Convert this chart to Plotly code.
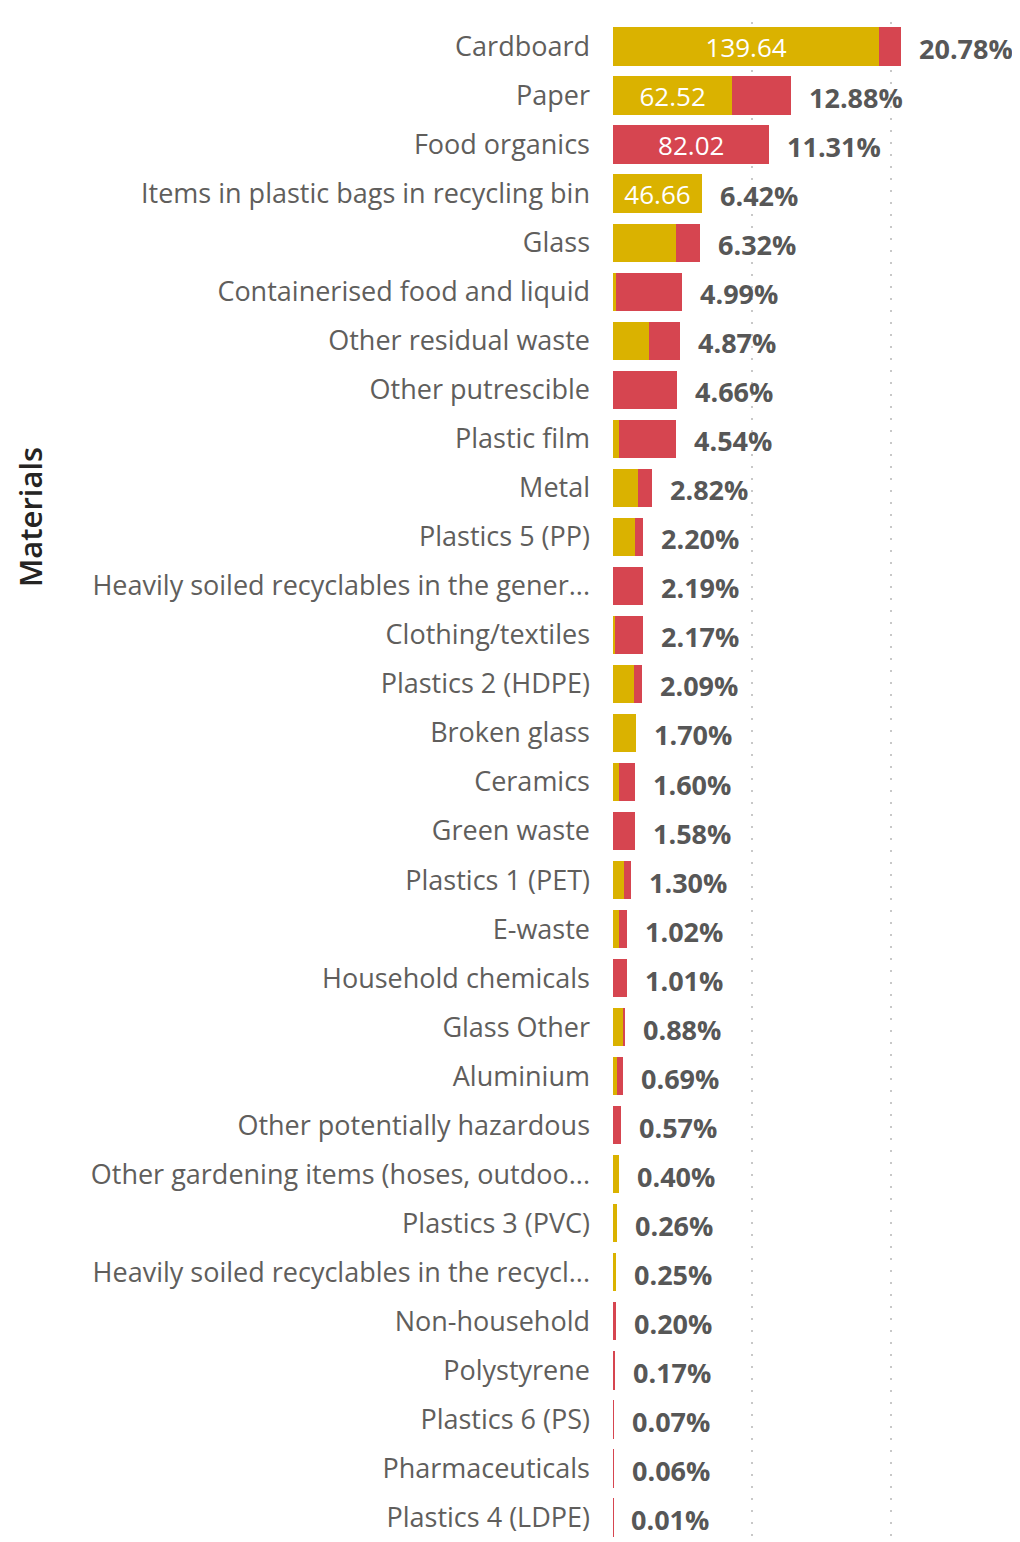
import plotly.graph_objects as go

materials = [
    "Cardboard", "Paper", "Food organics", "Items in plastic bags in recycling bin", "Glass",
    "Containerised food and liquid", "Other residual waste", "Other putrescible", "Plastic film", "Metal",
    "Plastics 5 (PP)", "Heavily soiled recyclables in the gener...", "Clothing/textiles", "Plastics 2 (HDPE)",
    "Broken glass", "Ceramics", "Green waste", "Plastics 1 (PET)", "E-waste", "Household chemicals",
    "Glass Other", "Aluminium", "Other potentially hazardous", "Other gardening items (hoses, outdoo...",
    "Plastics 3 (PVC)", "Heavily soiled recyclables in the recycl...", "Non-household", "Polystyrene",
    "Plastics 6 (PS)", "Pharmaceuticals", "Plastics 4 (LDPE)",
]

recycling = [139.64, 62.52, 0.0, 46.66, 32.8, 1.6, 19.0, 0.0, 2.9, 13.1,
             11.7, 0.0, 1.2, 11.2, 12.3, 2.9, 0.0, 5.9, 2.9, 0.0,
             5.2, 2.1, 0.0, 2.9, 1.9, 1.8, 0.0, 0.0, 0.0, 0.0, 0.03]

general = [11.4, 30.8, 82.02, 0.0, 13.0, 34.7, 16.3, 33.8, 30.0, 7.3,
           4.2, 15.9, 14.5, 4.0, 0.0, 8.7, 11.5, 3.5, 4.5, 7.3,
           1.2, 2.9, 4.1, 0.0, 0.0, 0.0, 1.45, 1.2, 0.5, 0.44, 0.04]

pct_labels = ["20.78%", "12.88%", "11.31%", "6.42%", "6.32%", "4.99%", "4.87%", "4.66%", "4.54%", "2.82%",
              "2.20%", "2.19%", "2.17%", "2.09%", "1.70%", "1.60%", "1.58%", "1.30%", "1.02%", "1.01%",
              "0.88%", "0.69%", "0.57%", "0.40%", "0.26%", "0.25%", "0.20%", "0.17%", "0.07%", "0.06%", "0.01%"]

grid_vals = [0, 73, 146]

YELLOW = "#DAB200"
RED = "#D64550"
FONT = "Open Sans"

def inbar(vals):
    return [f"{v:.2f}" if v > 40 else "" for v in vals]

fig = go.Figure()
fig.add_trace(go.Bar(
    y=materials, x=recycling, orientation="h", name="Recycling",
    marker=dict(color=YELLOW, line=dict(width=0)),
    text=inbar(recycling), textposition="inside", insidetextanchor="middle",
    constraintext="none",
    textfont=dict(family=FONT, size=26, color="white"), cliponaxis=False,
))
fig.add_trace(go.Bar(
    y=materials, x=general, orientation="h", name="General waste",
    marker=dict(color=RED, line=dict(width=0)),
    text=inbar(general), textposition="inside", insidetextanchor="middle",
    constraintext="none",
    textfont=dict(family=FONT, size=26, color="white"), cliponaxis=False,
))

totals = [r + g for r, g in zip(recycling, general)]
annotations = []
for m, t, p in zip(materials, totals, pct_labels):
    annotations.append(dict(
        x=t, y=m, xref="x", yref="y", text=f"<b>{p}</b>", showarrow=False,
        xanchor="left", yanchor="middle", xshift=16, yshift=-2,
        font=dict(family=FONT, size=27, color="#575757"),
    ))
annotations.append(dict(
    x=-1.433, y=0.674, xref="paper", yref="paper", text="Materials", showarrow=False,
    textangle=-90, xanchor="center", yanchor="middle",
    font=dict(family=FONT, size=31, color="#252423", weight=600),
))

fig.update_layout(
    width=1012, height=1534,
    margin=dict(l=605, r=0, t=14, b=0),
    barmode="stack", bargap=0.22,
    showlegend=False,
    plot_bgcolor="white", paper_bgcolor="white",
    annotations=annotations,
    xaxis=dict(range=[0, 213.4], tickvals=grid_vals, showticklabels=False,
               showgrid=True, gridcolor="#c8c8c8", gridwidth=1.5, griddash="2px,10px",
               zeroline=False, showline=False, fixedrange=True),
    yaxis=dict(autorange="reversed", type="category", showgrid=False, zeroline=False,
               ticklabelstandoff=22, showline=False,
               tickfont=dict(family=FONT, size=27, color="#605E5C")),
)

fig.write_html("out.html")
